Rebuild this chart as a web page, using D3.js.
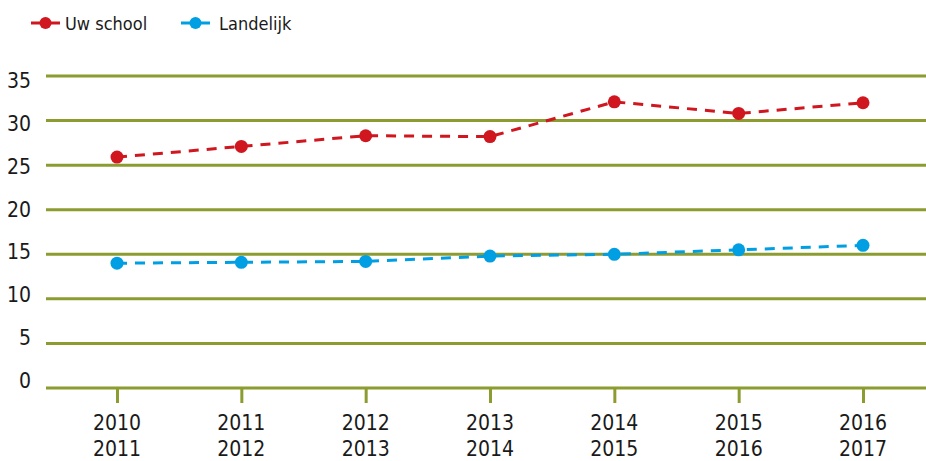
<!DOCTYPE html>
<html>
<head>
<meta charset="utf-8">
<script src="https://cdn.jsdelivr.net/npm/d3@7"></script>
<style>
  body { margin: 0; background: #fff; }
  svg text { font-family: "Liberation Sans Narrow", "DejaVu Sans Condensed", sans-serif; fill: #1a1a1a; }
</style>
</head>
<body>
<script>
/* Data */
const years = ["2010-2011", "2011-2012", "2012-2013", "2013-2014", "2014-2015", "2015-2016", "2016-2017"];
const school = [25.9, 27.1, 28.3, 28.2, 32.1, 30.8, 32.0];
const landelijk = [14.0, 14.1, 14.2, 14.8, 15.0, 15.5, 16.0];
const yTicks = [0, 5, 10, 15, 20, 25, 30, 35];

/* Constants */
const W = 926, H = 461;
const RED = "#d0161e", BLUE = "#009fe3", GRID = "#8c9c30";

const svg = d3.select("body").append("svg")
  .attr("width", W)
  .attr("height", H);

/* Scales */
const x = d3.scalePoint().domain(years).range([117, 863]);
const y = d3.scaleLinear().domain([0, 35]).range([388, 76]);
// labels sit a little off their gridlines in the original
const yLabel = d3.scaleLinear().domain([0, 35]).range([381, 81]);

/* Gridlines */
svg.append("g")
  .selectAll("line")
  .data(yTicks)
  .enter().append("line")
  .attr("x1", 46).attr("x2", W)
  .attr("y1", d => y(d)).attr("y2", d => y(d))
  .attr("stroke", GRID)
  .attr("stroke-width", 3);

/* Y labels */
svg.append("g")
  .selectAll("text")
  .data(yTicks)
  .enter().append("text")
  .attr("x", 31)
  .attr("y", d => yLabel(d))
  .attr("text-anchor", "end")
  .attr("dominant-baseline", "central")
  .style("font-size", "21px")
  .text(d => d);

/* X axis */
const xAxis = d3.axisBottom(x).tickSize(15).tickFormat("");
const gx = svg.append("g")
  .attr("transform", "translate(0," + y(0) + ")")
  .call(xAxis);
gx.select(".domain").remove();
gx.selectAll(".tick line").attr("stroke", GRID).attr("stroke-width", 3);

const labels = svg.append("g")
  .selectAll("text")
  .data(years)
  .enter().append("text")
  .attr("text-anchor", "middle")
  .style("font-size", "21px");
labels.append("tspan")
  .attr("x", d => x(d)).attr("y", 430)
  .text(d => d.split("-")[0]);
labels.append("tspan")
  .attr("x", d => x(d)).attr("y", 456)
  .text(d => d.split("-")[1]);

/* Lines */
const line = d3.line()
  .x((d, i) => x(years[i]))
  .y(d => y(d));

const series = [
  { name: "Uw school", values: school, color: RED },
  { name: "Landelijk", values: landelijk, color: BLUE }
];

series.forEach(s => {
  svg.append("path")
    .datum(s.values)
    .attr("d", line)
    .attr("fill", "none")
    .attr("stroke", s.color)
    .attr("stroke-width", 3)
    .attr("stroke-dasharray", "10,8");
});

series.forEach(s => {
  svg.append("g")
    .selectAll("circle")
    .data(s.values)
    .enter().append("circle")
    .attr("cx", (d, i) => x(years[i]))
    .attr("cy", d => y(d))
    .attr("r", 6.5)
    .attr("fill", s.color);
});

/* Legend */
const legendX = [31, 181];
const legend = svg.append("g")
  .selectAll("g")
  .data(series)
  .enter().append("g")
  .attr("transform", (d, i) => "translate(" + legendX[i] + ",23)");
legend.append("line")
  .attr("x1", 0).attr("x2", 29)
  .attr("stroke", d => d.color)
  .attr("stroke-width", 3);
legend.append("circle")
  .attr("cx", 14.5).attr("r", 6)
  .attr("fill", d => d.color);
legend.append("text")
  .attr("x", (d, i) => i === 0 ? 34 : 38)
  .attr("dominant-baseline", "central")
  .style("font-size", "18px")
  .text(d => d.name);
</script>
</body>
</html>
